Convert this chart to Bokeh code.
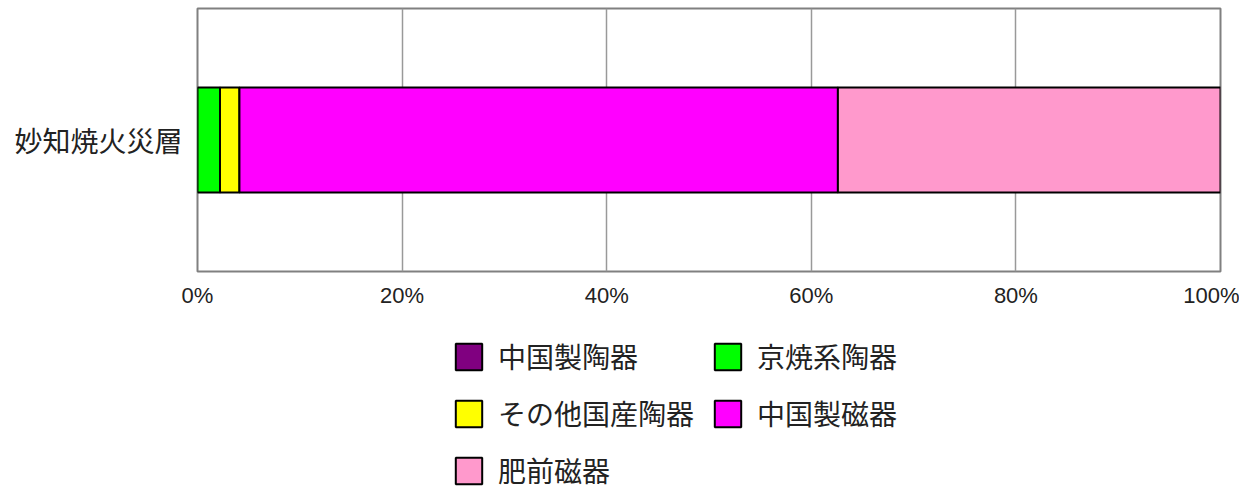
from bokeh.plotting import figure
from bokeh.layouts import column
from bokeh.models import FactorRange, Range1d, FixedTicker, PrintfTickFormatter, Legend, LegendItem
from bokeh.embed import file_html
from bokeh.resources import INLINE

layers = ["妙知焼火災層"]
series = ["中国製陶器", "京焼系陶器", "その他国産陶器", "中国製磁器", "肥前磁器"]
values = {
    "中国製陶器": [0.0],
    "京焼系陶器": [2.2],
    "その他国産陶器": [1.9],
    "中国製磁器": [58.5],
    "肥前磁器": [37.4],
}
colors = ["#800080", "#00FF00", "#FFFF00", "#FF00FF", "#FF99CC"]
x_ticks = [0, 20, 40, 60, 80, 100]

data = {"layer": layers}
data.update(values)

# main chart
p = figure(width=1239, height=310, y_range=FactorRange(*layers), x_range=Range1d(0, 100),
           output_backend="svg", toolbar_location=None,
           min_border_left=197, min_border_right=19, min_border_top=8, min_border_bottom=39)

renderers = p.hbar_stack(series, y="layer", height=0.4, color=colors, source=data,
                         line_color="black", line_width=2)

p.outline_line_color = "#808080"
p.outline_line_width = 2
p.xgrid.grid_line_color = "#999999"
p.xgrid.grid_line_width = 1.5
p.ygrid.grid_line_color = None

p.xaxis.ticker = FixedTicker(ticks=x_ticks)
p.xaxis.formatter = PrintfTickFormatter(format="%d%%")
p.xaxis.axis_line_color = None
p.xaxis.major_tick_line_color = None
p.xaxis.minor_tick_line_color = None
p.xaxis.major_label_text_font = "Liberation Sans"
p.xaxis.major_label_text_font_size = "22px"
p.xaxis.major_label_text_color = "#222222"
p.xaxis.major_label_standoff = 5

p.yaxis.axis_line_color = None
p.yaxis.major_tick_line_color = None
p.yaxis.minor_tick_line_color = None
p.yaxis.major_label_text_font = "Noto Sans CJK JP"
p.yaxis.major_label_text_font_size = "28px"
p.yaxis.major_label_text_color = "#222222"
p.yaxis.major_label_standoff = 9

# legend panel: same series, renderers hidden so only the legend shows
q = figure(width=1239, height=187, y_range=FactorRange(*layers), x_range=Range1d(0, 100),
           output_backend="svg", toolbar_location=None,
           min_border=0, min_border_left=0, min_border_right=0, min_border_top=0, min_border_bottom=0)
q.axis.visible = False
q.grid.visible = False
q.outline_line_color = None
q_renderers = q.hbar_stack(series, y="layer", height=0.4, color=colors, source=data,
                           line_color="black", line_width=2)
for r in q_renderers:
    r.visible = False

items = [LegendItem(label=s, renderers=[r]) for s, r in zip(series, q_renderers)]
legend = Legend(items=items, orientation="horizontal", ncols=2, location=(255, 7),
                label_text_font="Noto Sans CJK JP", label_text_font_size="28px",
                label_text_color="#222222", glyph_width=33, glyph_height=33,
                label_standoff=13, spacing=17, padding=0, margin=0,
                border_line_color=None, background_fill_alpha=0,
                inactive_fill_alpha=0)
q.add_layout(legend, "center")

layout = column(p, q, spacing=0)
open("out.html", "w").write(file_html(layout, INLINE))
